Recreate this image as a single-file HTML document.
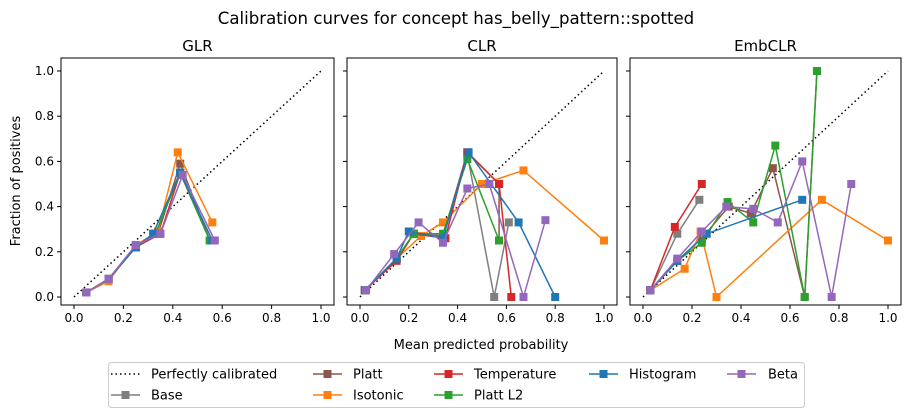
<!DOCTYPE html>
<html><head><meta charset="utf-8"><style>
body{margin:0;background:#fff}
svg{display:block;font-family:"DejaVu Sans","Liberation Sans",sans-serif}
</style></head><body>
<svg id="c" width="911" height="418" xmlns="http://www.w3.org/2000/svg">
<text x="456" y="24" text-anchor="middle" font-size="16.6">Calibration curves for concept has_belly_pattern::spotted</text>
<text x="481" y="349" text-anchor="middle" font-size="13">Mean predicted probability</text>
<text transform="translate(20,181) rotate(-90)" text-anchor="middle" font-size="13">Fraction of positives</text>
</svg>
<script>
const panelTitles=["GLR","CLR","EmbCLR"];
const seriesNames=["Base","Platt","Isotonic","Temperature","Platt L2","Histogram","Beta"];
const seriesColors=["#7f7f7f","#8c564b","#ff7f0e","#d62728","#2ca02c","#1f77b4","#9467bd"];
const xTicks=[0,0.2,0.4,0.6,0.8,1.0];
const yTicks=[0,0.2,0.4,0.6,0.8,1.0];
const glrX=[[0.05,0.14,0.25,0.33,0.43,0.55],[0.05,0.14,0.25,0.34,0.43,0.55],[0.05,0.14,0.25,0.34,0.42,0.56],[0.05,0.14,0.25,0.35,0.43,0.55],[0.05,0.14,0.25,0.33,0.43,0.55],[0.05,0.14,0.25,0.32,0.43,0.56],[0.05,0.14,0.25,0.35,0.44,0.57]];
const glrY=[[0.02,0.08,0.22,0.28,0.55,0.25],[0.02,0.08,0.22,0.28,0.59,0.25],[0.02,0.07,0.23,0.29,0.64,0.33],[0.02,0.08,0.22,0.28,0.55,0.25],[0.02,0.08,0.22,0.28,0.55,0.25],[0.02,0.08,0.22,0.28,0.55,0.25],[0.02,0.08,0.23,0.28,0.54,0.25]];
const clrX=[[0.02,0.15,0.22,0.34,0.44,0.55,0.61],[0.02,0.15,0.22,0.34,0.44,0.57,0.57],[0.02,0.15,0.25,0.34,0.50,0.67,1.0],[0.02,0.15,0.22,0.35,0.44,0.57,0.62],[0.02,0.15,0.22,0.34,0.44,0.57],[0.02,0.15,0.20,0.34,0.445,0.65,0.80],[0.025,0.14,0.24,0.34,0.44,0.53,0.67,0.76]];
const clrY=[[0.03,0.17,0.28,0.27,0.63,0,0.33],[0.03,0.17,0.28,0.27,0.64,0.5,0.25],[0.03,0.17,0.27,0.33,0.50,0.56,0.25],[0.03,0.16,0.28,0.26,0.64,0.5,0],[0.03,0.17,0.28,0.28,0.61,0.25],[0.03,0.17,0.29,0.26,0.64,0.33,0],[0.03,0.19,0.33,0.24,0.48,0.50,0,0.34]];
const embX=[[0.03,0.14,0.23],[0.03,0.14,0.24,0.35,0.44,0.53,0.66,0.71],[0.03,0.17,0.235,0.30,0.73,1.0],[0.03,0.13,0.24],[0.03,0.14,0.24,0.345,0.45,0.54,0.66,0.71],[0.03,0.14,0.26,0.65],[0.03,0.14,0.24,0.34,0.45,0.55,0.65,0.77,0.85]];
const embY=[[0.03,0.28,0.43],[0.03,0.16,0.26,0.40,0.37,0.57,0,1.0],[0.03,0.125,0.29,0,0.43,0.25],[0.03,0.31,0.5],[0.03,0.16,0.24,0.42,0.33,0.67,0,1.0],[0.03,0.16,0.28,0.43],[0.03,0.17,0.29,0.40,0.39,0.33,0.60,0,0.50]];
const panelX=[glrX,clrX,embX];
const panelY=[glrY,clrY,embY];
const legendNames=["Perfectly calibrated","Base","Platt","Isotonic","Temperature","Platt L2","Histogram","Beta"];

const svg=document.getElementById('c');
const NS="http://www.w3.org/2000/svg";
function mk(t,a,p){const e=document.createElementNS(NS,t);for(const k in a)e.setAttribute(k,a[k]);(p||svg).appendChild(e);return e;}
const boxes=[[61,334],[347,617],[630,901]];
const axTop=58,axBot=305;
const yS=v=>297-226*v;
panelTitles.forEach((t,pi)=>{
  const [l,r]=boxes[pi];
  const x0=l+13,x1=r-13;
  const xS=v=>x0+(x1-x0)*v;
  const g=mk('g',{});
  
  
  const tt=mk('text',{x:(l+r)/2,y:51,'text-anchor':'middle','font-size':15},g);tt.textContent=t;
  
  
  xTicks.forEach(v=>{mk('line',{x1:xS(v),x2:xS(v),y1:axBot,y2:axBot+4,stroke:'#000'},g);
    const tx=mk('text',{x:xS(v),y:axBot+17,'text-anchor':'middle','font-size':12},g);tx.textContent=v.toFixed(1);
    
    });
  yTicks.forEach(v=>{mk('line',{x1:l-4,x2:l,y1:yS(v),y2:yS(v),stroke:'#000'},g);
    if(pi===0){const ty=mk('text',{x:l-7,y:yS(v)+4,'text-anchor':'end','font-size':12},g);ty.textContent=v.toFixed(1);
    
    }});
  const d=mk('line',{x1:xS(0),y1:yS(0),x2:xS(1),y2:yS(1),stroke:'#000','stroke-width':1.5,'stroke-dasharray':'1.5,3'},g);
  
  
  panelX[pi].forEach((xs,si)=>{
    const ys=panelY[pi][si];
    const pts=xs.map((x,i)=>xS(x)+','+yS(ys[i])).join(' ');
    const pl=mk('polyline',{points:pts,fill:'none',stroke:seriesColors[si],'stroke-width':1.5},g);
    
    
    xs.forEach((x,i)=>{const m=mk('rect',{x:xS(x)-4,y:yS(ys[i])-4,width:8,height:8,fill:seriesColors[si]},g);
      
      });
  });
  const fr=mk('rect',{x:l,y:axTop,width:r-l,height:axBot-axTop,fill:'none',stroke:'#000','stroke-width':1},g);
  
  
});
const lg=mk('g',{});


mk('rect',{x:108.5,y:362.5,width:696,height:45,rx:3,fill:'#fff',stroke:'#ccc'},lg);
const cols=[[111,151],[313,353],[434,474],[589,629],[727,768]];
const slots=[[0,0],[0,1],[1,0],[1,1],[2,0],[2,1],[3,0],[4,0]];
legendNames.forEach((n,i)=>{
  const [c,row]=slots[i];
  const [lx,tx]=cols[c];const y=row?395:374;
  const e=mk('g',{},lg);
  
  
  if(i===0){mk('line',{x1:lx,x2:lx+29,y1:y,y2:y,stroke:'#000','stroke-width':1.5,'stroke-dasharray':'1.5,3'},e);}
  else{const col=seriesColors[i-1];mk('line',{x1:lx,x2:lx+29,y1:y,y2:y,stroke:col,'stroke-width':1.5},e);
    mk('rect',{x:lx+10.5,y:y-4,width:8,height:8,fill:col},e);}
  const t=mk('text',{x:tx,y:y+4.5,'font-size':13},e);t.textContent=n;
});
</script>
</body></html>
